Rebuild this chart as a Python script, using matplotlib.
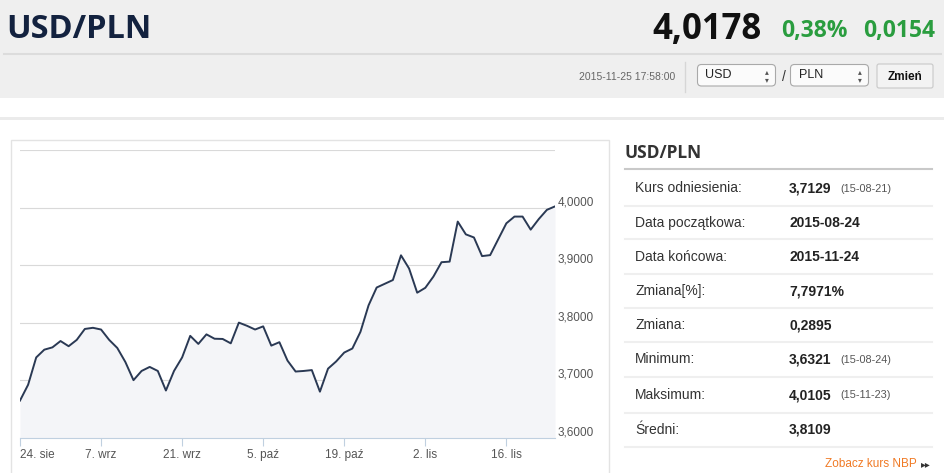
import matplotlib
matplotlib.use("Agg")
import matplotlib.pyplot as plt
from matplotlib.patches import Rectangle, FancyBboxPatch
from matplotlib.lines import Line2D
from matplotlib.transforms import Affine2D, offset_copy

# kurs USD/PLN, sesje 24.08 - 24.11.2015 (odczyt z wykresu)
rates = [3.6645, 3.692, 3.7395, 3.753, 3.757, 3.768, 3.759, 3.770, 3.789, 3.791,
         3.788, 3.770, 3.756, 3.7315, 3.700, 3.716, 3.723, 3.716, 3.682, 3.716,
         3.7395, 3.777, 3.763, 3.7796, 3.772, 3.7716, 3.764, 3.800, 3.7945, 3.788,
         3.7935, 3.760, 3.766, 3.734, 3.715, 3.716, 3.7175, 3.680, 3.720, 3.7325,
         3.748, 3.755, 3.784, 3.830, 3.861, 3.8675, 3.874, 3.917, 3.894, 3.852,
         3.8605, 3.880, 3.905, 3.906, 3.9756, 3.9534, 3.948, 3.9156, 3.9173, 3.945,
         3.9726, 3.9843, 3.9843, 3.9616, 3.980, 3.996, 4.002]
tick_pos = [0, 10, 20, 30, 40, 50, 60]
tick_labels = ["24. sie", "7. wrz", "21. wrz", "5. paź", "19. paź", "2. lis", "16. lis"]
y_ticks = [3.6, 3.7, 3.8, 3.9, 4.0, 4.1]
y_labels = ["3,6000", "3,7000", "3,8000", "3,9000", "4,0000"]

pair = "USD/PLN"
last_rate = "4,0178"
change_pct = "0,38%"
change_abs = "0,0154"
timestamp = "2015-11-25 17:58:00"

row_labels = ["Kurs odniesienia:", "Data początkowa:", "Data końcowa:", "Zmiana[%]:",
              "Zmiana:", "Minimum:", "Maksimum:", "Średni:"]
row_values = ["3,7129", "2015-08-24", "2015-11-24", "7,7971%", "0,2895",
              "3,6321", "4,0105", "3,8109"]
row_dates = ["(15-08-21)", "", "", "", "", "(15-08-24)", "(15-11-23)", ""]

W, H = 945, 473
fig = plt.figure(figsize=(W / 100, H / 100), dpi=100)
fig.patch.set_facecolor("white")
# piksele liczone od lewego gornego rogu
px = Affine2D().scale(1 / 100, -1 / 100).translate(0, H / 100) + fig.dpi_scale_trans

def rect(x, y, w, h, **kw):
    kw.setdefault("zorder", -2)
    fig.add_artist(Rectangle((x, y), w, h, transform=px, **kw))

def hline(x0, x1, y, **kw):
    fig.add_artist(Line2D([x0, x1], [y, y], transform=px, **kw))

def txt(x, y, s, **kw):
    kw.setdefault("family", ["Liberation Sans", "DejaVu Sans"])
    fig.text(x, y, s, transform=px, **kw)

# naglowek
rect(0, 0, W, 98, facecolor="#efefef", edgecolor="none")
hline(4, 941, 54, color="#dcdcdc", lw=1.5, zorder=-1)
rect(0, 117.5, W, 3, facecolor="#ebebeb", edgecolor="none")
txt(6, 38, pair, fontsize=23.5, fontweight="bold", color="#13223f",
    family=["Open Sans", "DejaVu Sans"], va="baseline")
txt(762, 39, last_rate, fontsize=25, fontweight="bold", color="#111111",
    family=["Open Sans", "DejaVu Sans"], va="baseline", ha="right")
txt(848, 37.5, change_pct, fontsize=16.5, fontweight="bold", color="#2a9d3f",
    family=["Open Sans", "DejaVu Sans"], va="baseline", ha="right")
txt(935, 37.5, change_abs, fontsize=16.5, fontweight="bold", color="#2a9d3f",
    family=["Open Sans", "DejaVu Sans"], va="baseline", ha="right")

txt(675, 77, timestamp, fontsize=7.5, color="#666666", ha="right", va="center")
fig.add_artist(Line2D([684.5, 684.5], [62, 92], transform=px, color="#d6d6d6", lw=1))
for x0, cur in [(697.5, "USD"), (790.5, "PLN")]:
    fig.add_artist(FancyBboxPatch((x0, 64.5), 78, 21.5, boxstyle="round,pad=0,rounding_size=4",
                                  transform=px, facecolor="#fbfbfb", edgecolor="#a9a9a9", lw=0.8))
    txt(x0 + 8, 75.5, cur, fontsize=9, color="#222222", va="center")
    txt(x0 + 69, 75.5, "▴\n▾", fontsize=5.5, color="#555555", va="center", ha="center",
        linespacing=0.75, family=["DejaVu Sans"])
txt(783.5, 77, "/", fontsize=10, color="#333333", va="center", ha="center")
fig.add_artist(FancyBboxPatch((877, 64), 56, 24, boxstyle="round,pad=0,rounding_size=2",
                              transform=px, facecolor="#f3f3f3", edgecolor="#c8c8c8", lw=0.8))
txt(905, 77, "Zmień", fontsize=8.5, fontweight="bold", color="#111111", va="center", ha="center")

# ramka wykresu
rect(10.5, 140.5, 598.5, 340, facecolor="white", edgecolor="#e3e3e3", lw=1)

ax = fig.add_axes([20 / W, 1 - 437.7 / H, 535 / W, 287.7 / H])
ax.set_facecolor("none")
x = list(range(len(rates)))
ax.fill_between(x, rates, 3.6, color="#f4f5f8", lw=0, zorder=1)
ax.plot(x, rates, color="#2a3954", lw=1.4, zorder=3, solid_joinstyle="round")
ax.set_xlim(0, len(rates) - 1)
ax.set_ylim(3.6, 4.1)
ax.set_yticks(y_ticks)
ax.yaxis.grid(True, color="#d9d9d9", lw=0.8, zorder=0)
ax.set_axisbelow(True)
ax.tick_params(axis="y", length=0, labelleft=False)
for s in ["top", "left", "right"]:
    ax.spines[s].set_visible(False)
ax.spines["bottom"].set_color("#c0d0e0")
ax.spines["bottom"].set_linewidth(0.8)
ax.set_xticks(tick_pos, tick_labels)
ax.tick_params(axis="x", length=6, width=0.8, color="#c0d0e0", pad=2,
               labelsize=8.5, labelcolor="#555555")
for lab in ax.get_xticklabels():
    lab.set_family(["Liberation Sans", "DejaVu Sans"])
ax.get_xticklabels()[0].set_ha("left")
ylab_tr = offset_copy(ax.get_yaxis_transform(), fig=fig, x=3, y=5.5, units="dots")
for v, s in zip(y_ticks, y_labels):
    ax.text(1.0, v, s, transform=ylab_tr, ha="left", va="center", fontsize=8.5,
            color="#555555", family=["Liberation Sans", "DejaVu Sans"], clip_on=False)

# tabela po prawej
txt(625, 153, pair, fontsize=12.5, fontweight="bold", color="#333333",
    family=["Open Sans", "DejaVu Sans"], va="center")
hline(625, 932, 169.5, color="#c9c9c9", lw=1.5)
row_y = [188.3, 222.7, 256.7, 291, 325, 359.3, 395, 430]
sep_y = [205.7, 239.3, 274, 308.3, 342.3, 377.3, 413, 447]
for yy in sep_y:
    hline(625, 932, yy, color="#efefef", lw=1.5)
for yy, lab, val, dt in zip(row_y, row_labels, row_values, row_dates):
    txt(635, yy, lab, fontsize=10, color="#333333", va="center")
    txt(789, yy, val, fontsize=10, fontweight="bold", color="#222222", va="center")
    if dt:
        txt(840, yy + 0.5, dt, fontsize=7.8, color="#555555", va="center")
txt(917, 464, "Zobacz kurs NBP", fontsize=8.5, color="#f07a25", va="center", ha="right")
txt(926, 464.5, "▸▸", fontsize=7, color="#333333", va="center", ha="center",
    family=["DejaVu Sans"])

fig.savefig("out.png", dpi=100)
